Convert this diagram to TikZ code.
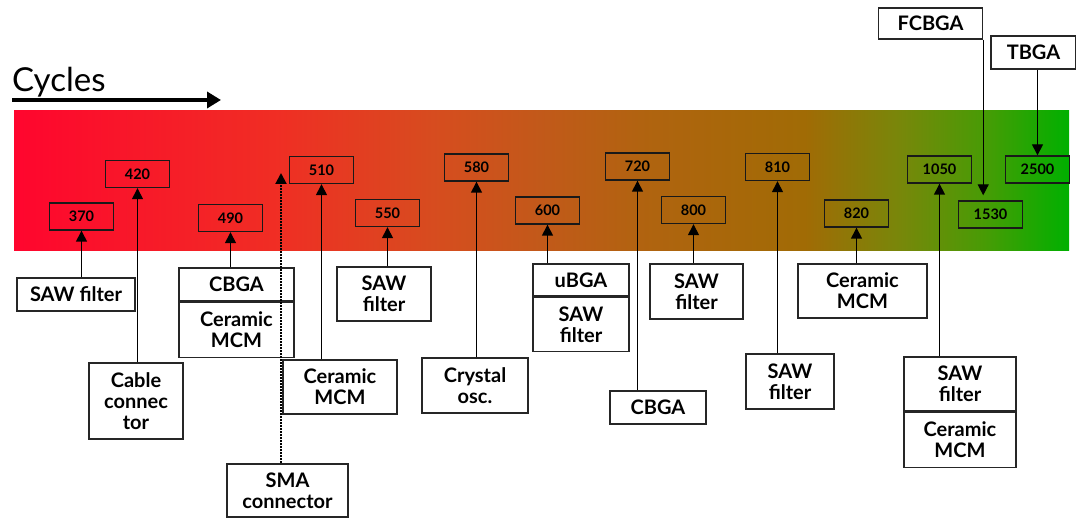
\documentclass[tikz,border=0pt]{standalone}
\usepackage{fontspec}
\setmainfont{Lato}
\usetikzlibrary{arrows.meta,positioning}
\newcommand{\numfont}{\fontsize{14.5pt}{15pt}\selectfont\bfseries}
\newcommand{\labfont}{\fontsize{20pt}{21pt}\selectfont\bfseries}
\newcommand{\cycfont}{\fontsize{33pt}{35pt}\selectfont}
\pgfdeclarehorizontalshading{cyclebar}{100bp}{rgb(0bp)=(1,0.02,0.18); rgb(25bp)=(1,0.02,0.18); rgb(37.5bp)=(0.94,0.18,0.14); rgb(45bp)=(0.84,0.30,0.12); rgb(50bp)=(0.76,0.35,0.10); rgb(55bp)=(0.69,0.39,0.06); rgb(62.5bp)=(0.63,0.42,0.02); rgb(67bp)=(0.47,0.53,0.04); rgb(71bp)=(0.28,0.61,0.02); rgb(75bp)=(0,0.69,0); rgb(100bp)=(0,0.69,0)}
\tikzset{
  numbox/.style={draw=black!90, line width=1.4pt, minimum width=64pt, minimum height=27pt, inner sep=0pt, font=\numfont},
  labbox/.style={draw=black!85, fill=white, line width=1.4pt, inner sep=0pt, align=center, font=\labfont},
  uparr/.style={-{Triangle[length=11pt,width=11pt]}, line width=1.4pt},
  dotarr/.style={-{Triangle[length=11pt,width=11pt]}, line width=2pt, densely dotted},
  cycarr/.style={-{Triangle[length=14pt,width=16pt]}, line width=3.5pt}
}
\begin{document}
\begin{tikzpicture}[x=1pt,y=-1pt]
  \useasboundingbox (0,0) rectangle (1076,518);
  \shade[shading=cyclebar] (14,111) rectangle (1069,251);

  \node[anchor=base west, inner sep=0pt, font=\cycfont] (cyc) at (12,92) {Cycles};
  \coordinate (cycend) at (221,100);
  \draw[cycarr] (cyc.west |- cycend) -- (cycend);

  \node[numbox] (n370) at (81.5,216.5) {370};
  \node[numbox] (n420) at (137.5,174) {420};
  \node[numbox] (n490) at (230.5,218) {490};
  \node[numbox] (n510) at (321.5,170) {510};
  \node[numbox] (n550) at (387.5,213) {550};
  \node[numbox] (n580) at (476.5,167.5) {580};
  \node[numbox] (n600) at (547.5,210.5) {600};
  \node[numbox] (n720) at (637.5,166.5) {720};
  \node[numbox] (n800) at (693.5,210) {800};
  \node[numbox] (n810) at (777.5,167) {810};
  \node[numbox] (n820) at (856.5,213.5) {820};
  \node[numbox] (n1050) at (939.5,169.5) {1050};
  \node[numbox] (n1530) at (990.5,214.5) {1530};
  \node[numbox] (n2500) at (1037.5,169.5) {2500};

  \node[labbox, minimum width=118pt, minimum height=33pt] (l370) at (76,294.5) {SAW filter};
  \node[labbox, minimum width=94pt, minimum height=76pt] (l420) at (136,401) {Cable\\connec\\tor};
  \node[labbox, minimum width=115pt, minimum height=33pt] (l490) at (236.5,284.5) {CBGA};
  \node[labbox, minimum width=115pt, minimum height=55pt, below=0pt of l490] (l490b) {Ceramic\\MCM};
  \node[labbox, minimum width=121pt, minimum height=53pt] (sma) at (287.5,490.5) {SMA\\connector};
  \node[labbox, minimum width=114pt, minimum height=54pt] (l510) at (340,387) {Ceramic\\MCM};
  \node[labbox, minimum width=94pt, minimum height=54pt] (l550) at (384,294) {SAW\\filter};
  \node[labbox, minimum width=106pt, minimum height=55pt] (l580) at (475,385.5) {Crystal\\osc.};
  \node[labbox, minimum width=96pt, minimum height=32pt] (l600) at (581,280) {uBGA};
  \node[labbox, minimum width=96pt, minimum height=54pt, below=0pt of l600] (l600b) {SAW\\filter};
  \node[labbox, minimum width=96pt, minimum height=33pt] (l720) at (658,407.5) {CBGA};
  \node[labbox, minimum width=93pt, minimum height=55pt] (l800) at (696.5,291.5) {SAW\\filter};
  \node[labbox, minimum width=88pt, minimum height=55pt] (l810) at (790,381.5) {SAW\\filter};
  \node[labbox, minimum width=129pt, minimum height=54pt] (l820) at (862.5,291) {Ceramic\\MCM};
  \node[labbox, minimum width=112pt, minimum height=54pt] (l1050) at (960,384) {SAW\\filter};
  \node[labbox, minimum width=112pt, minimum height=55pt, below=0pt of l1050] (l1050b) {Ceramic\\MCM};
  \node[labbox, minimum width=104pt, minimum height=31pt] (fcbga) at (930.5,23.5) {FCBGA};
  \node[labbox, minimum width=85pt, minimum height=33pt] (tbga) at (1033.5,52.5) {TBGA};

  \draw[uparr] (l370.north -| n370) -- (n370.south);
  \draw[uparr] (l420.north -| n420) -- (n420.south);
  \draw[uparr] (l490.north -| n490) -- (n490.south);
  \draw[uparr] (l510.north -| n510) -- (n510.south);
  \draw[uparr] (l550.north -| n550) -- (n550.south);
  \draw[uparr] (l580.north -| n580) -- (n580.south);
  \draw[uparr] (l600.north -| n600) -- (n600.south);
  \draw[uparr] (l720.north -| n720) -- (n720.south);
  \draw[uparr] (l800.north -| n800) -- (n800.south);
  \draw[uparr] (l810.north -| n810) -- (n810.south);
  \draw[uparr] (l820.north -| n820) -- (n820.south);
  \draw[uparr] (l1050.north -| n1050) -- (n1050.south);
  \draw[uparr, shorten >=5pt] (fcbga.south east) -- (fcbga.south east |- n1530.north);
  \draw[uparr] (tbga.south -| n2500) -- (n2500.north);

  \coordinate (smatip) at (281,173);
  \draw[dotarr] (sma.north -| smatip) -- (smatip);
\end{tikzpicture}
\end{document}
